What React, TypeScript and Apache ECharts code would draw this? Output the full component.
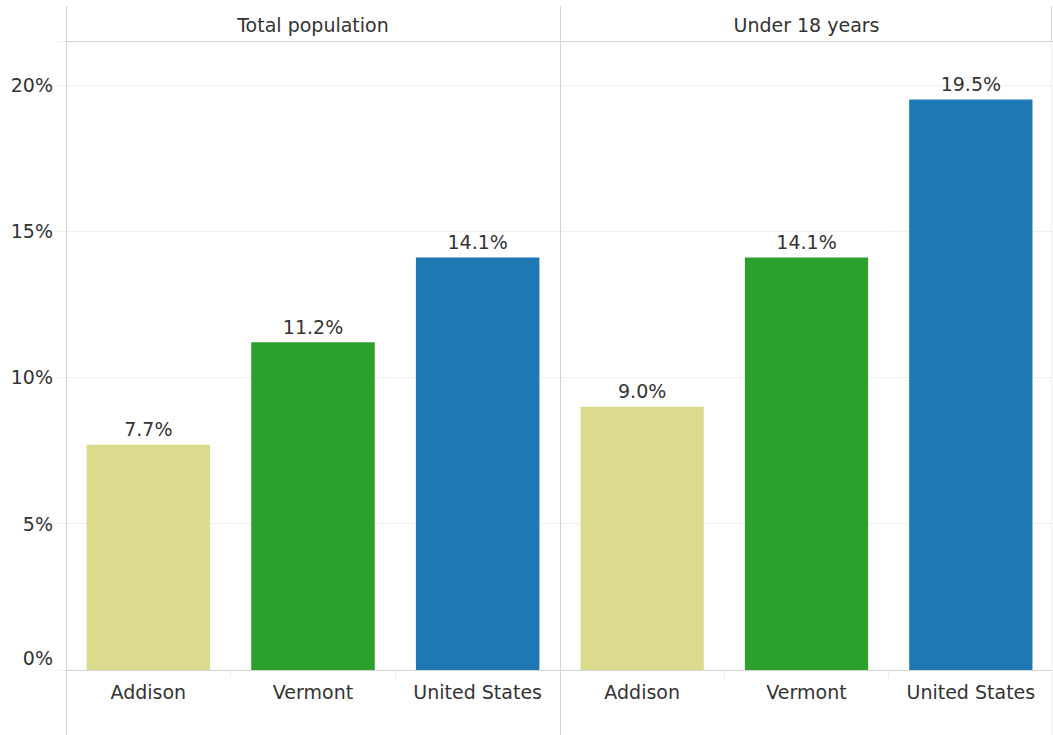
import React, { useEffect, useRef } from "react";
import * as echarts from "echarts";

const categories = ["Addison", "Vermont", "United States"];
const panels = ["Total population", "Under 18 years"];
const totalPopulation = [7.7, 11.2, 14.1];
const under18 = [9.0, 14.1, 19.5];
const barColors = ["#dbdb8d", "#2ca02c", "#1f77b4"];
const yTicks = [0, 5, 10, 15, 20];

const FONT = "DejaVu Sans";
const FS = 19;

export default function App() {
  const ref = useRef<HTMLDivElement>(null);
  useEffect(() => {
    document.body.style.margin = "0";
    const chart = echarts.init(ref.current!, null, { renderer: "svg" });
    const W = 1053;
    const H = 735;
    const left = 66;
    const mid = 560;
    const top = 41;
    const bottom = 670;
    const yFmt = (v: number) => {
      if (!yTicks.includes(v)) return "";
      if (v === 0) return "{z|0%}";
      return v + "%";
    };
    const makeX = (i: number) => ({
      type: "category",
      gridIndex: i,
      data: categories,
      axisLine: { show: true, lineStyle: { color: "#d4d4d4", width: 1 } },
      axisTick: { show: true, interval: 0, length: 8, lineStyle: { color: "#ececec" } },
      axisLabel: { interval: 0, fontSize: FS, color: "#333", margin: 12, fontFamily: FONT },
    });
    const makeY = (i: number) => ({
      type: "value",
      gridIndex: i,
      min: 0,
      max: 21.5,
      interval: 5,
      axisLine: { show: false },
      axisTick: { show: i === 0, length: 9, lineStyle: { color: "#eeeeee" } },
      splitLine: { show: true, lineStyle: { color: "#f0f0f0", width: 1 } },
      axisLabel: {
        show: i === 0,
        fontSize: FS,
        color: "#333",
        margin: 13,
        fontFamily: FONT,
        formatter: yFmt,
        rich: { z: { fontSize: FS, color: "#333", fontFamily: FONT, padding: [0, 0, 24, 0] } },
      },
    });
    const makeSeries = (i: number, vals: number[]) => ({
      type: "bar",
      xAxisIndex: i,
      yAxisIndex: i,
      barWidth: "75%",
      data: vals.map((v, k) => ({ value: v, itemStyle: { color: barColors[k] } })),
      label: {
        show: true,
        position: "top",
        distance: 6,
        fontSize: FS,
        color: "#333",
        fontFamily: FONT,
        formatter: (p: any) => Number(p.value).toFixed(1) + "%",
      },
    });
    const lineStyle = { stroke: "#d4d4d4", lineWidth: 1 };
    chart.setOption({
      animation: false,
      textStyle: { fontFamily: FONT },
      grid: [
        { left: left, top: top, width: mid - left, height: bottom - top },
        { left: mid, top: top, width: W - mid, height: bottom - top },
      ],
      xAxis: [makeX(0), makeX(1)],
      yAxis: [makeY(0), makeY(1)],
      series: [makeSeries(0, totalPopulation), makeSeries(1, under18)],
      graphic: [
        { type: "line", shape: { x1: left + 0.5, y1: 6, x2: left + 0.5, y2: H }, style: lineStyle, z: 10 },
        { type: "line", shape: { x1: mid + 0.5, y1: 6, x2: mid + 0.5, y2: H }, style: lineStyle, z: 10 },
        { type: "line", shape: { x1: left, y1: top + 0.5, x2: W, y2: top + 0.5 }, style: lineStyle, z: 10 },
        { type: "line", shape: { x1: W - 1.5, y1: 6, x2: W - 1.5, y2: top }, style: lineStyle, z: 10 },
        { type: "line", shape: { x1: W - 1.5, y1: top, x2: W - 1.5, y2: H }, style: { stroke: "#f0f0f0", lineWidth: 1 }, z: 10 },
        {
          type: "text",
          x: (left + mid) / 2,
          y: 25,
          style: { text: panels[0], fontSize: FS, fill: "#333", fontFamily: FONT, align: "center", verticalAlign: "middle" },
        },
        {
          type: "text",
          x: (mid + W) / 2,
          y: 25,
          style: { text: panels[1], fontSize: FS, fill: "#333", fontFamily: FONT, align: "center", verticalAlign: "middle" },
        },
      ],
    });
    return () => chart.dispose();
  }, []);
  return <div ref={ref} style={{ width: 1053, height: 735 }} />;
}
